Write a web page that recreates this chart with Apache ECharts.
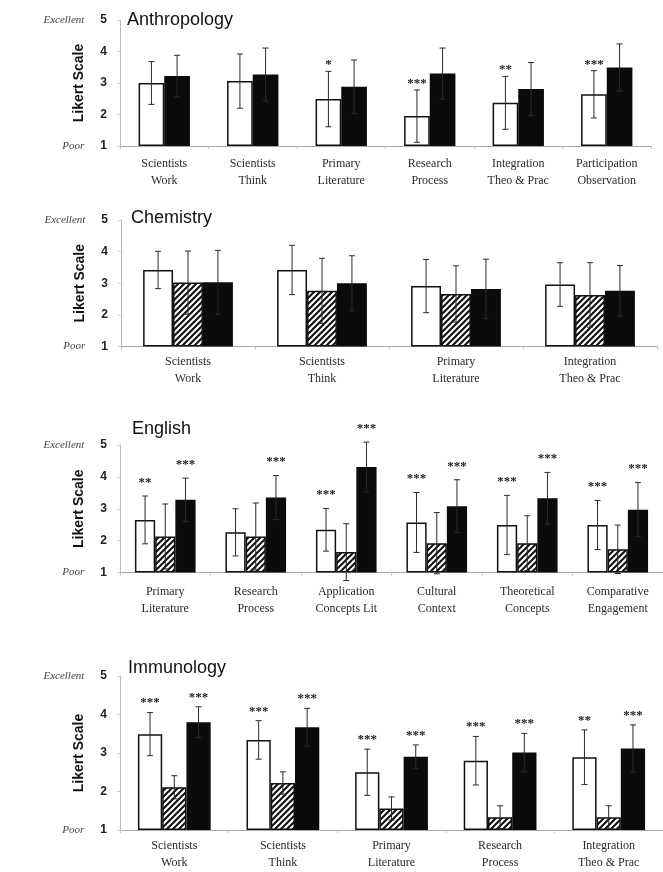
<!DOCTYPE html>
<html>
<head>
<meta charset="utf-8">
<script src="https://cdn.jsdelivr.net/npm/echarts@6/dist/echarts.min.js"></script>
<style>
  html, body { margin: 0; padding: 0; background: #fff; }
  #chart { width: 663px; height: 872px; }
</style>
</head>
<body>
<div id="chart"></div>
<script>
// ---- Anthropology (open = first survey, solid = second survey) ----
const anthroCategories = ['Scientists\nWork', 'Scientists\nThink', 'Primary\nLiterature', 'Research\nProcess', 'Integration\nTheo & Prac', 'Participation\nObservation'];
const anthroOpenMean  = [3.00, 3.06, 2.49, 1.95, 2.37, 2.64];
const anthroOpenSd    = [0.68, 0.86, 0.88, 0.83, 0.84, 0.75];
const anthroOpenStars = ['', '', '*', '***', '**', '***'];
const anthroSolidMean  = [3.22, 3.27, 2.88, 3.30, 2.81, 3.49];
const anthroSolidSd    = [0.66, 0.84, 0.85, 0.81, 0.84, 0.75];
const anthroSolidStars = ['', '', '', '', '', ''];

// ---- Chemistry ----
const chemCategories = ['Scientists\nWork', 'Scientists\nThink', 'Primary\nLiterature', 'Integration\nTheo & Prac'];
const chemOpenMean    = [3.42, 3.42, 2.91, 2.96];
const chemOpenSd      = [0.59, 0.78, 0.84, 0.69];
const chemHatchMean   = [3.02, 2.76, 2.66, 2.63];
const chemHatchSd     = [1.00, 1.03, 0.89, 1.02];
const chemSolidMean   = [3.03, 3.00, 2.82, 2.76];
const chemSolidSd     = [1.01, 0.87, 0.94, 0.80];
const chemNoStars     = ['', '', '', ''];

// ---- English ----
const engCategories = ['Primary\nLiterature', 'Research\nProcess', 'Application\nConcepts Lit', 'Cultural\nContext', 'Theoretical\nConcepts', 'Comparative\nEngagement'];
const engOpenMean   = [2.65, 2.26, 2.34, 2.57, 2.49, 2.49];
const engOpenSd     = [0.75, 0.74, 0.67, 0.94, 0.93, 0.77];
const engOpenStars  = ['**', '', '***', '***', '***', '***'];
const engHatchMean  = [2.13, 2.13, 1.64, 1.92, 1.92, 1.73];
const engHatchSd    = [1.02, 1.05, 0.89, 0.96, 0.86, 0.76];
const engHatchStars = ['', '', '', '', '', ''];
const engSolidMean  = [3.28, 3.35, 4.31, 3.08, 3.33, 2.97];
const engSolidSd    = [0.68, 0.69, 0.78, 0.83, 0.81, 0.85];
const engSolidStars = ['***', '***', '***', '***', '***', '***'];

// ---- Immunology ----
const immCategories = ['Scientists\nWork', 'Scientists\nThink', 'Primary\nLiterature', 'Research\nProcess', 'Integration\nTheo & Prac'];
const immOpenMean   = [3.49, 3.34, 2.50, 2.80, 2.89];
const immOpenSd     = [0.56, 0.50, 0.60, 0.63, 0.71];
const immOpenStars  = ['***', '***', '***', '***', '**'];
const immHatchMean  = [2.11, 2.22, 1.56, 1.33, 1.33];
const immHatchSd    = [0.30, 0.29, 0.30, 0.30, 0.30];
const immHatchStars = ['', '', '', '', ''];
const immSolidMean  = [3.80, 3.67, 2.90, 3.01, 3.12];
const immSolidSd    = [0.40, 0.49, 0.31, 0.50, 0.61];
const immSolidStars = ['***', '***', '***', '***', '***'];

const yTicks = [1, 2, 3, 4, 5];

// diagonal "///" fill for the hatched bars
function hatchPattern() {
  const p = 6;
  const cv = document.createElement('canvas');
  cv.width = p; cv.height = p;
  const g = cv.getContext('2d');
  g.fillStyle = '#fff';
  g.fillRect(0, 0, p, p);
  g.strokeStyle = '#111';
  g.lineWidth = 2.1;
  g.beginPath();
  g.moveTo(0, p); g.lineTo(p, 0);
  g.moveTo(-p / 2, p / 2); g.lineTo(p / 2, -p / 2);
  g.moveTo(p / 2, p * 1.5); g.lineTo(p * 1.5, p / 2);
  g.stroke();
  return cv;
}
const HATCH = { image: hatchPattern(), repeat: 'repeat' };

const FILL = {
  open:  { color: '#ffffff', borderColor: '#111', borderWidth: 1.5 },
  hatch: { color: HATCH,     borderColor: '#111', borderWidth: 1.5 },
  solid: { color: '#0b0b0b', borderColor: '#0b0b0b', borderWidth: 1.5 }
};

const panels = [
  { title: 'Anthropology', cats: anthroCategories, groups: [
      { kind: 'open',  mean: anthroOpenMean,  sd: anthroOpenSd,  stars: anthroOpenStars },
      { kind: 'solid', mean: anthroSolidMean, sd: anthroSolidSd, stars: anthroSolidStars } ] },
  { title: 'Chemistry', cats: chemCategories, groups: [
      { kind: 'open',  mean: chemOpenMean,  sd: chemOpenSd,  stars: chemNoStars },
      { kind: 'hatch', mean: chemHatchMean, sd: chemHatchSd, stars: chemNoStars },
      { kind: 'solid', mean: chemSolidMean, sd: chemSolidSd, stars: chemNoStars } ] },
  { title: 'English', cats: engCategories, groups: [
      { kind: 'open',  mean: engOpenMean,  sd: engOpenSd,  stars: engOpenStars },
      { kind: 'hatch', mean: engHatchMean, sd: engHatchSd, stars: engHatchStars },
      { kind: 'solid', mean: engSolidMean, sd: engSolidSd, stars: engSolidStars } ] },
  { title: 'Immunology', cats: immCategories, groups: [
      { kind: 'open',  mean: immOpenMean,  sd: immOpenSd,  stars: immOpenStars },
      { kind: 'hatch', mean: immHatchMean, sd: immHatchSd, stars: immHatchStars },
      { kind: 'solid', mean: immSolidMean, sd: immSolidSd, stars: immSolidStars } ] }
];

// page layout of the four stacked panels
const layout = [
  { left: 120, right: 12, top: 20,  height: 126,   gap: 0.42, catMargin: 9,  starLift: 9,  titleLeft: 127, titleTop: 11 },
  { left: 121, right: 6,  top: 220, height: 126.5, gap: 0.33, catMargin: 7,  starLift: 12, titleLeft: 131, titleTop: 209 },
  { left: 120, right: -8, top: 445, height: 127.5, gap: 0.33, catMargin: 11, starLift: 16, titleLeft: 132, titleTop: 420 },
  { left: 120, right: -10, top: 676, height: 154,  gap: 0.33, catMargin: 7,  starLift: 12, titleLeft: 128, titleTop: 659 }
];

// error bar (mean ± sd) with caps and significance stars, placed over its bar slot
function errorSeries(k, g, slot, nSlots, gapFrac, starLift) {
  return {
    type: 'custom',
    xAxisIndex: k, yAxisIndex: k,
    z: 5,
    data: g.mean.map((m, i) => [i, m, g.sd[i]]),
    encode: { x: 0, y: 1 },
    renderItem(params, api) {
      const i = api.value(0), m = api.value(1), sd = api.value(2);
      const band = api.size([1, 0])[0];
      const groupW = band * (1 - gapFrac);
      const barW = groupW / nSlots;
      const c = api.coord([i, m]);
      const x = c[0] - groupW / 2 + barW * (slot + 0.5);
      const yTop = api.coord([i, m + sd])[1];
      const yBot = api.coord([i, m - sd])[1];
      const cap = 3;
      const st = { stroke: '#2a2a2a', lineWidth: 1 };
      const children = [
        { type: 'line', shape: { x1: x, y1: yTop, x2: x, y2: yBot }, style: st },
        { type: 'line', shape: { x1: x - cap, y1: yTop, x2: x + cap, y2: yTop }, style: st },
        { type: 'line', shape: { x1: x - cap, y1: yBot, x2: x + cap, y2: yBot }, style: st }
      ];
      const s = g.stars[params.dataIndex];
      if (s) {
        children.push({
          type: 'text',
          style: {
            x: x, y: yTop - (starLift - 9), text: s,
            align: 'center', verticalAlign: 'bottom',
            font: 'bold 13px "Liberation Serif"', fill: '#222'
          }
        });
      }
      return { type: 'group', children };
    }
  };
}

const option = {
  backgroundColor: '#fff',
  animation: false,
  title: [], grid: [], xAxis: [], yAxis: [], series: []
};

panels.forEach((p, k) => {
  const L = layout[k];
  option.title.push({
    text: p.title, left: L.titleLeft, top: L.titleTop, padding: 0,
    textStyle: { fontFamily: 'Liberation Sans', fontWeight: 'normal', fontSize: 18, color: '#111' }
  });
  option.grid.push({ left: L.left, right: L.right, top: L.top, height: L.height, containLabel: false });
  option.xAxis.push({
    gridIndex: k, type: 'category', data: p.cats,
    axisLine: { show: true, lineStyle: { color: '#a8a8a8', width: 1 } },
    axisTick: { show: true, length: 3, lineStyle: { color: '#c4c4c4' } },
    axisLabel: {
      interval: 0, margin: L.catMargin, lineHeight: 17, hideOverlap: false,
      fontFamily: 'Liberation Serif', fontSize: 12, color: '#2a2a2a'
    },
    splitLine: { show: false }
  });
  option.yAxis.push({
    gridIndex: k, type: 'value', min: yTicks[0], max: yTicks[yTicks.length - 1], interval: 1, startValue: 1,
    name: 'Likert Scale', nameLocation: 'middle', nameGap: 34, nameRotate: 90, nameMoveOverlap: false,
    nameTextStyle: { fontFamily: 'Liberation Sans', fontWeight: 'bold', fontSize: 14, color: '#111' },
    axisLine: { show: true, lineStyle: { color: '#bdbdbd', width: 1 } },
    axisTick: { show: true, length: 3, lineStyle: { color: '#cfcfcf' } },
    splitLine: { show: false },
    axisLabel: {
      margin: 13,
      formatter: v => v === 5 ? '{q|Excellent}{n|5}' : v === 1 ? '{q|Poor}{n|1}' : '{n|' + v + '}',
      rich: {
        q: { fontFamily: 'Liberation Serif', fontStyle: 'italic', fontSize: 11, color: '#444', padding: [0, 16, 0, 0] },
        n: { fontFamily: 'Liberation Sans', fontWeight: 'bold', fontSize: 12, color: '#222' }
      }
    }
  });
  const n = p.groups.length;
  p.groups.forEach(g => {
    option.series.push({
      type: 'bar', xAxisIndex: k, yAxisIndex: k,
      name: p.title + ' ' + g.kind,
      data: g.mean,
      barGap: '0%', barCategoryGap: Math.round(L.gap * 100) + '%',
      itemStyle: FILL[g.kind],
      clip: true, z: 2
    });
  });
  p.groups.forEach((g, slot) => {
    option.series.push(errorSeries(k, g, slot, n, L.gap, L.starLift));
  });
});

const chart = echarts.init(document.getElementById('chart'), null, { renderer: 'canvas' });
chart.setOption(option);
</script>
</body>
</html>
